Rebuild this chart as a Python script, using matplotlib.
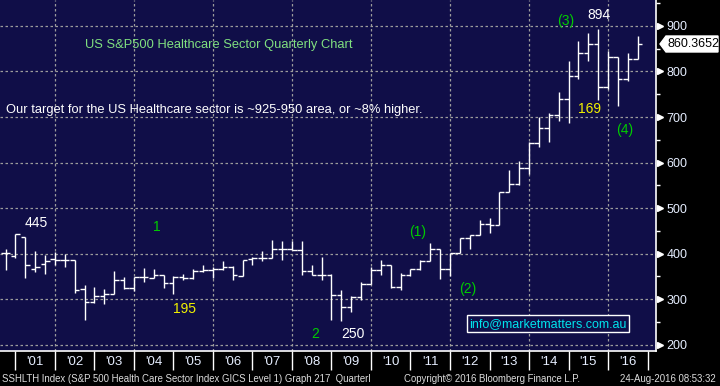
import numpy as np
import pandas as pd
import matplotlib
matplotlib.use("Agg")
import matplotlib.pyplot as plt
from matplotlib.patches import Polygon
from matplotlib.transforms import blended_transform_factory, IdentityTransform

# ── Data: S&P500 Health Care sector, quarterly OHLC ──────────────────
quarters = pd.period_range("2000Q3", "2016Q3", freq="Q")

opens = [401, 395, 436, 367, 378, 389, 385, 385, 323, 294, 307, 312, 341,
         324, 349, 347, 354, 335, 349, 347, 361, 365, 367, 371, 351, 388,
         391, 391, 410, 410, 408, 361, 353, 353, 310, 283, 305, 333, 363,
         374, 327, 352, 366, 383, 411, 367, 402, 435, 441, 466, 463, 535,
         552, 587, 642, 676, 705, 739, 790, 840, 860, 766, 831, 783, 827]
highs = [410, 444, 436, 405, 396, 404, 398, 385, 332, 327, 323, 361, 349,
         349, 369, 366, 354, 351, 355, 367, 376, 370, 383, 373, 386, 393,
         405, 429, 427, 427, 427, 374, 392, 355, 321, 307, 338, 370, 385,
         374, 358, 367, 385, 423, 411, 402, 435, 440, 474, 479, 535, 584,
         603, 644, 700, 709, 755, 823, 866, 884, 893, 845, 831, 840, 878]
lows = [364, 391, 347, 360, 355, 374, 370, 313, 254, 291, 289, 312, 322,
        317, 338, 346, 324, 311, 341, 345, 360, 346, 365, 343, 351, 376,
        383, 391, 385, 408, 354, 353, 343, 255, 251, 271, 298, 333, 352,
        324, 320, 351, 364, 383, 345, 351, 401, 411, 441, 446, 463, 535,
        550, 575, 634, 644, 691, 687, 783, 824, 737, 761, 725, 779, 827]
closes = [401, 444, 376, 371, 383, 385, 385, 319, 294, 307, 312, 341, 324,
          349, 349, 354, 335, 349, 347, 361, 363, 367, 371, 352, 386, 391,
          391, 410, 411, 408, 361, 353, 353, 310, 283, 305, 333, 363, 374,
          327, 352, 366, 383, 411, 367, 402, 435, 440, 466, 463, 535, 552,
          587, 642, 676, 705, 739, 790, 840, 860, 766, 831, 783, 827, 860.3652]

years = list(range(2001, 2017))
year_labels = ["'%02d" % (y % 100) for y in years]
y_ticks = [200, 300, 400, 500, 600, 700, 800, 900]
last_price = closes[-1]

# ── Colours ──────────────────────────────────────────────────────────
BG = "#100e48"
GRID = "#9c9c9c"
GREEN = "#00cc00"
YELLOW = "#f2f200"
LABEL = "#e6eeff"

plt.rcParams["font.family"] = ["Liberation Sans", "DejaVu Sans"]

fig = plt.figure(figsize=(7.2, 3.86), dpi=100, facecolor="black")
ax = fig.add_axes([0, 1 - 351 / 386, 656 / 720, 351 / 386])
ax.set_facecolor(BG)

x = np.array([p.year + p.quarter / 4 for p in quarters])
tick = 0.115

ax.vlines(x, lows, highs, color="white", lw=1.0, zorder=3)
ax.hlines(opens, x - tick, x, color="white", lw=1.0, zorder=3)
ax.hlines(closes, x, x + tick, color="white", lw=1.0, zorder=3)

ax.set_xlim(2000.608, 2017.215)
ax.set_ylim(186, 957)

# grid
for yv in y_ticks:
    ax.axhline(yv, color=GRID, lw=0.9, ls=(0, (2, 2)), zorder=1)
for yr in range(2002, 2017, 2):
    ax.axvline(yr, color=GRID, lw=0.9, ls=(0, (2, 2)), zorder=1)

# spines
for side in ["top", "left"]:
    ax.spines[side].set_visible(False)
for side in ["bottom", "right"]:
    ax.spines[side].set_color("white")
    ax.spines[side].set_linewidth(1.2)

# ── Right-hand price axis ────────────────────────────────────────────
ax.yaxis.tick_right()
ax.set_yticks(y_ticks)
ax.set_yticks([v + 50 for v in y_ticks], minor=True)
ax.tick_params(axis="y", which="major", length=0, pad=7.5,
               labelcolor=LABEL, labelsize=9)
ax.tick_params(axis="y", which="minor", length=3, width=1,
               color="white", direction="out")
ax.set_xticks([])

tri_tr = blended_transform_factory(ax.transAxes, ax.transData)
ax.plot(np.full(len(y_ticks), 1.006), y_ticks, ls="none", marker=">",
        ms=4.5, color="white", transform=tri_tr, clip_on=False)

# year separators and labels
sep_tr = blended_transform_factory(ax.transData, ax.transAxes)
ax.vlines(years + [2017], -0.055, 0, color="white", lw=1.0,
          transform=sep_tr, clip_on=False)
for yr, lab in zip(years, year_labels):
    ax.text(yr + 0.5, -0.03, lab, transform=sep_tr, ha="center",
            va="center", color=LABEL, fontsize=9.5)

# ── Annotations ──────────────────────────────────────────────────────
ax.text(0.1296, 0.872, "US S&P500 Healthcare Sector Quarterly Chart",
        transform=ax.transAxes, color="#80e080", fontsize=9.3,
        ha="left", va="center")
ax.text(0.009, 0.687,
        "Our target for the US Healthcare sector is ~925-950 area, "
        "or ~8% higher.",
        transform=ax.transAxes, color="white", fontsize=9.3,
        ha="left", va="center")

for txt, xx, yy, col in [("445", 2001.52, 467, "white"),
                         ("1", 2004.58, 459, GREEN),
                         ("195", 2005.29, 279, YELLOW),
                         ("2", 2008.58, 224, GREEN),
                         ("250", 2009.54, 224, "white"),
                         ("(1)", 2011.19, 448, GREEN),
                         ("(2)", 2012.46, 322, GREEN),
                         ("(3)", 2014.94, 911, GREEN),
                         ("894", 2015.77, 924, "white"),
                         ("169", 2015.54, 718, YELLOW),
                         ("(4)", 2016.43, 672, GREEN)]:
    ax.text(xx, yy, txt, color=col, fontsize=10, ha="center", va="center")

ax.text(0.835, 0.077, "info@marketmatters.com.au", transform=ax.transAxes,
        color="#00e4ec", fontsize=9, ha="center", va="center",
        bbox=dict(boxstyle="square,pad=0.2", fc=BG, ec="white", lw=1))

# last price flag
fig.canvas.draw()
px, py = ax.transData.transform((ax.get_xlim()[1], last_price))
flag = Polygon([(px + 4, py), (px + 10, py + 8), (px + 62, py + 8),
                (px + 62, py - 8), (px + 10, py - 8)], closed=True,
               fc="white", ec="white", transform=IdentityTransform())
fig.add_artist(flag)
fig.text((px + 11) / 720, py / 386, "%.4f" % last_price, color="black",
         fontsize=9, ha="left", va="center")

# footer
foot = dict(color="#dddddd", fontsize=6.9, va="center")
fig.text(2 / 720, 7 / 386,
         "SSHLTH Index (S&P 500 Health Care Sector Index GICS Level 1) "
         "Graph 217  Quarterl", ha="left", **foot)
fig.text(404 / 720, 7 / 386, "Copyright\u00a9 2016 Bloomberg Finance L.P.",
         ha="left", **foot)
fig.text(716 / 720, 7 / 386, "24-Aug-2016 08:53:32", ha="right", **foot)

fig.savefig("out.png", dpi=100, facecolor="black")
